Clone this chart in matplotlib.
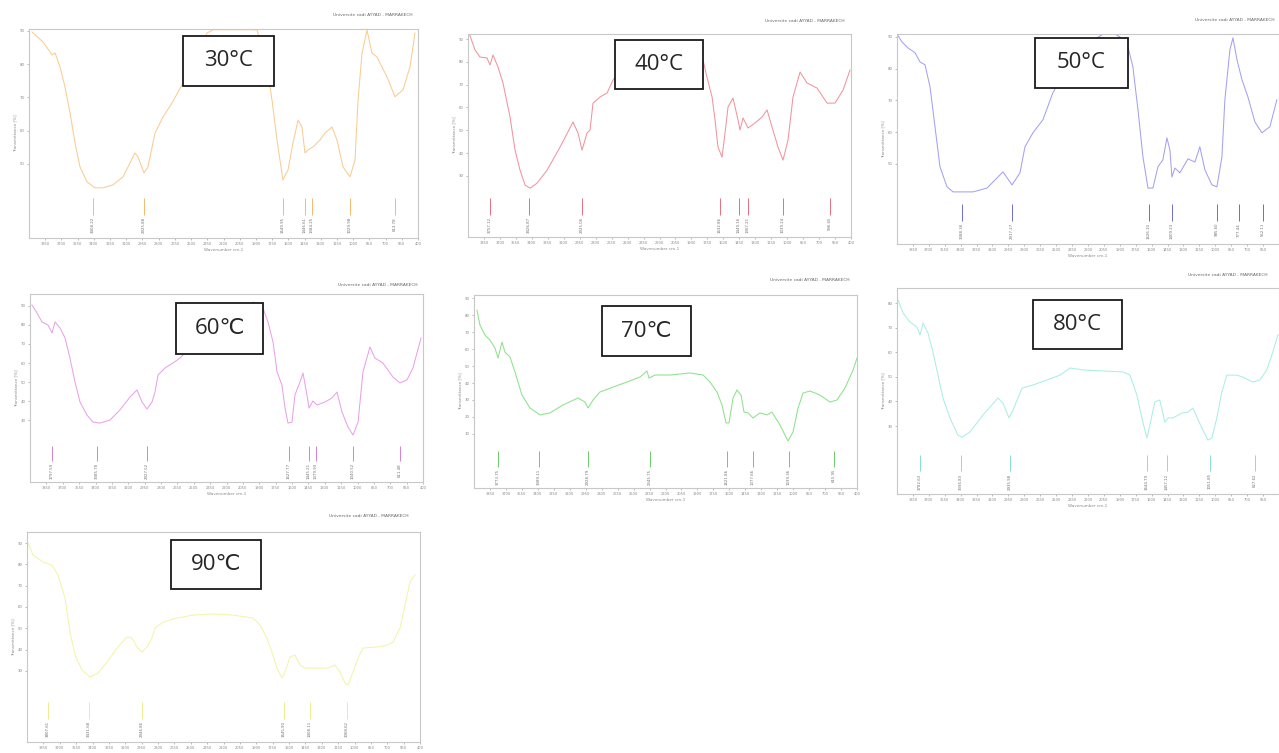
"""
FTIR spectra of the samples dried at 30-90 °C (one panel per temperature).
"""

import numpy as np
import matplotlib.pyplot as plt
from matplotlib.patches import Rectangle

W, H = 1279, 753
HEADER = "Universite cadi AYYAD - MARRAKECH"

# ---------------------------------------------------------------------------
# Data: wavenumber (cm-1) / transmittance (%)
# ---------------------------------------------------------------------------
wn_30 = [3972, 3870, 3787, 3759, 3713, 3667, 3620, 3574, 3528, 3463, 3389, 3315,
         3222, 3130, 3019, 2991, 2936, 2899, 2834, 2760, 2677, 2584, 2482, 2353,
         2290, 2100, 1950, 1890, 1797, 1751, 1705, 1650, 1603, 1557, 1510, 1474,
         1446, 1418, 1372, 1307, 1261, 1196, 1150, 1094, 1029, 983, 955, 918,
         872, 826, 780, 687, 613, 539, 474, 428]
t_30 = [89.7, 86.7, 82.8, 83.4, 79.2, 73.2, 65.3, 56.3, 49.1, 44.6, 42.8, 42.8,
        43.7, 46.1, 53.3, 52.1, 47.3, 49.1, 59.3, 64.1, 68.3, 73.8, 79.2, 89.4,
        90.4, 90.4, 90.4, 90.3, 79.2, 69.2, 57.2, 45.2, 48.2, 56.3, 63.2, 61.1,
        53.3, 54.2, 55.1, 57.2, 59.3, 61.1, 57.2, 49.1, 46.1, 51.2, 69.2, 83.4,
        90.3, 83.4, 82.2, 76.2, 70.2, 72.3, 79.2, 89.4]
peaks_30 = [3408, 2936, 1650, 1447, 1382, 1030, 614]
peak_labels_30 = ["3408.22", "2925.88", "1649.95", "1446.61", "1384.25",
                  "1029.98", "613.78"]

wn_40 = [3990, 3934, 3887, 3821, 3793, 3765, 3718, 3671, 3605, 3558, 3511, 3464,
         3417, 3351, 3257, 3135, 3013, 2966, 2928, 2881, 2853, 2825, 2759, 2693,
         2637, 2500, 2300, 2100, 1950, 1791, 1754, 1706, 1678, 1650, 1612, 1584,
         1556, 1509, 1462, 1443, 1415, 1368, 1302, 1236, 1189, 1142, 1086, 1039,
         992, 945, 879, 813, 719, 625, 550, 475, 409]
t_40 = [92.6, 85.2, 82.1, 81.7, 78.6, 83.0, 77.7, 70.7, 55.8, 41.3, 32.5, 26.0,
        24.6, 26.8, 32.5, 42.6, 53.6, 48.8, 41.3, 48.8, 50.1, 61.9, 64.6, 66.3,
        72.0, 80.0, 86.0, 88.0, 86.0, 80.8, 73.3, 64.6, 54.5, 42.6, 38.2, 48.8,
        60.2, 64.1, 54.5, 50.1, 55.4, 51.0, 53.2, 55.8, 58.9, 51.4, 42.6, 36.9,
        45.7, 64.6, 75.5, 70.7, 68.5, 61.9, 61.9, 67.6, 76.4]
peaks_40 = [3793, 3427, 2929, 1631, 1453, 1368, 1039, 597]
peak_labels_40 = ["3757.12", "3426.87", "2925.06", "1632.86", "1449.16",
                  "1367.21", "1039.24", "596.65"]

wn_50 = [4000, 3953, 3896, 3830, 3783, 3736, 3689, 3642, 3595, 3529, 3472, 3284,
         3152, 3001, 2916, 2841, 2794, 2719, 2625, 2531, 2400, 2200, 2000, 1900,
         1824, 1777, 1729, 1682, 1635, 1588, 1541, 1494, 1456, 1428, 1409, 1381,
         1334, 1258, 1192, 1146, 1098, 1032, 985, 938, 910, 863, 834, 796, 749,
         693, 627, 561, 486, 420]
t_50 = [90.9, 88.4, 86.5, 85.0, 82.1, 81.2, 74.3, 61.7, 49.1, 42.8, 41.2, 41.2,
        42.4, 47.5, 43.4, 47.2, 55.4, 59.8, 63.9, 72.4, 80.0, 88.0, 92.0, 90.0,
        86.9, 80.6, 67.0, 52.2, 42.4, 42.4, 49.1, 51.3, 58.2, 54.4, 45.9, 48.7,
        47.2, 51.6, 50.6, 55.4, 48.1, 43.4, 42.8, 52.2, 70.2, 85.9, 89.7, 82.8,
        76.5, 71.1, 63.2, 59.8, 61.7, 70.2]
peaks_50 = [3388, 2917, 1626, 1409, 985, 778, 552]
peak_labels_50 = ["3388.36", "2917.27", "1626.10", "1409.23", "985.60",
                  "777.44", "552.11"]

wn_60 = [3982, 3936, 3890, 3835, 3798, 3771, 3725, 3679, 3634, 3588, 3542, 3478,
         3423, 3359, 3267, 3176, 3084, 3020, 2974, 2928, 2882, 2855, 2827, 2763,
         2690, 2626, 2500, 2300, 2100, 1950, 1866, 1820, 1774, 1737, 1692, 1664,
         1637, 1600, 1573, 1527, 1499, 1463, 1444, 1408, 1371, 1298, 1234, 1188,
         1142, 1087, 1041, 995, 950, 886, 840, 767, 675, 611, 547, 492, 418]
t_60 = [90.5, 86.3, 81.6, 80.0, 75.8, 81.6, 78.4, 73.2, 62.6, 50.0, 39.5, 32.6,
        28.9, 28.4, 30.0, 35.3, 42.1, 45.8, 39.5, 35.8, 39.5, 44.7, 53.7, 57.4,
        60.0, 62.6, 70.0, 82.0, 90.0, 92.0, 88.9, 81.6, 71.1, 55.3, 48.4, 36.3,
        28.4, 28.9, 43.2, 50.0, 54.7, 43.2, 36.3, 40.0, 37.9, 39.5, 41.6, 44.7,
        34.2, 26.3, 22.1, 28.9, 55.3, 68.4, 62.6, 60.0, 52.6, 49.5, 51.1, 57.4,
        73.2]
peaks_60 = [3798, 3386, 2928, 1628, 1445, 1380, 1041, 611]
peak_labels_60 = ["3797.59", "3385.78", "2927.52", "1627.77", "1445.21",
                  "1379.93", "1040.52", "611.48"]

wn_70 = [3972, 3944, 3897, 3850, 3803, 3774, 3737, 3709, 3662, 3615, 3549, 3474,
         3380, 3286, 3163, 3022, 2957, 2928, 2881, 2816, 2693, 2562, 2440, 2374,
         2355, 2299, 2158, 1970, 1847, 1782, 1716, 1669, 1631, 1603, 1565, 1528,
         1490, 1462, 1424, 1377, 1312, 1246, 1199, 1171, 1124, 1077, 1049, 1001,
         954, 907, 842, 748, 654, 588, 513, 437, 400]
t_70 = [82.9, 74.1, 68.2, 65.3, 60.6, 54.7, 64.1, 58.2, 55.3, 46.5, 32.9, 25.3,
        21.2, 22.4, 27.1, 31.2, 28.8, 25.3, 30.0, 34.7, 37.6, 40.6, 43.5, 47.1,
        42.9, 44.7, 44.7, 45.9, 44.7, 40.6, 34.7, 27.1, 16.5, 16.5, 31.2, 35.9,
        32.9, 22.9, 22.4, 19.4, 22.4, 21.2, 22.9, 20.0, 15.3, 9.4, 5.9, 11.2,
        25.3, 34.1, 35.3, 32.9, 28.8, 30.0, 37.1, 47.6, 54.7]
peaks_70 = [3774, 3389, 2929, 2346, 1622, 1378, 1039, 616]
peak_labels_70 = ["3773.75", "3389.11", "2928.79", "2345.75", "1621.86",
                  "1377.66", "1039.36", "615.95"]

wn_80 = [3990, 3943, 3878, 3812, 3783, 3755, 3708, 3661, 3614, 3567, 3501, 3426,
         3388, 3312, 3190, 3049, 3001, 2945, 2907, 2822, 2719, 2587, 2464, 2370,
         2248, 2060, 1871, 1805, 1739, 1692, 1645, 1617, 1570, 1523, 1476, 1447,
         1400, 1315, 1259, 1212, 1174, 1127, 1070, 1033, 986, 939, 891, 797, 741,
         647, 581, 515, 458, 411]
t_80 = [81.2, 75.9, 72.3, 70.2, 67.0, 71.9, 67.8, 60.1, 50.7, 41.4, 33.3, 26.3,
        25.5, 27.6, 34.5, 41.4, 39.3, 33.3, 36.5, 45.4, 46.7, 48.7, 50.7, 53.6,
        52.8, 52.4, 52.0, 50.7, 42.6, 33.3, 25.1, 30.4, 39.8, 40.6, 31.6, 33.3,
        33.3, 35.3, 35.7, 37.3, 33.7, 29.2, 24.3, 25.1, 33.3, 43.8, 50.7, 50.7,
        49.9, 47.9, 48.7, 52.8, 60.1, 67.0]
peaks_80 = [3783, 3397, 2936, 1645, 1457, 1052, 628]
peak_labels_80 = ["3782.63", "3396.83", "2935.98", "1644.79", "1457.12",
                  "1051.85", "627.62"]

wn_90 = [3991, 3945, 3853, 3771, 3716, 3652, 3606, 3560, 3496, 3423, 3350, 3267,
         3176, 3084, 3038, 2992, 2947, 2901, 2855, 2828, 2754, 2626, 2479, 2296,
         2113, 1930, 1866, 1802, 1756, 1710, 1664, 1637, 1591, 1545, 1499, 1453,
         1344, 1243, 1179, 1133, 1087, 1060, 1014, 968, 922, 794, 702, 647, 583,
         537, 492, 446]
t_90 = [90.0, 84.4, 81.1, 79.7, 75.0, 64.2, 48.2, 37.4, 30.4, 27.1, 29.0, 34.1,
        40.7, 45.9, 45.4, 41.2, 38.8, 41.2, 45.4, 50.1, 52.9, 54.8, 56.2, 56.7,
        56.2, 54.8, 51.5, 45.4, 38.8, 31.3, 26.6, 29.4, 36.5, 37.4, 32.7, 31.3,
        31.3, 31.3, 32.7, 29.4, 24.3, 23.3, 29.4, 36.0, 40.7, 41.2, 42.1, 43.5,
        50.1, 60.9, 71.7, 75.0]
peaks_90 = [3808, 3432, 2947, 1646, 1408, 1069]
peak_labels_90 = ["3807.61", "3431.68", "2946.86", "1645.90", "1408.11",
                  "1068.62"]

temps = ["30°C", "40°C", "50°C", "60℃", "70℃", "80°C", "90℃"]

# ---------------------------------------------------------------------------
# Layout (pixel boxes of the pasted spectra) and style
# ---------------------------------------------------------------------------
PANELS = [
    # frame (x0, y0, x1, y1), ylim, yticks, header (x, y), label box (x, y, w, h)
    dict(frame=(29, 29, 418, 238), ylim=(27.7, 90.6), yticks=[90, 80, 70, 60, 50],
         header=(413, 15), box=(183, 36, 91, 50), color='#F8CC92', mark='#F3BA6E',
         xmin_tick=400, xlabel=True),
    dict(frame=(468, 34, 851, 237), ylim=(3.2, 92.2), yticks=[90, 80, 70, 60, 50, 40, 30],
         header=(845, 21), box=(615, 40, 88, 49), color='#F0949D', mark='#E4707F',
         xmin_tick=400, xlabel=True),
    dict(frame=(897, 34, 1279, 244), ylim=(24.8, 90.9), yticks=[90, 80, 70, 60, 50],
         header=(1275, 20), box=(1035, 38, 93, 50), color='#A2A2F0', mark='#6C6CD6',
         xmin_tick=550, xlabel=True),
    dict(frame=(30, 294, 423, 482), ylim=(-2.6, 96.3), yticks=[90, 80, 70, 60, 50, 40, 30],
         header=(418, 285), box=(176, 303, 87, 51), color='#E8A2E8', mark='#D880D8',
         xmin_tick=400, xlabel=True),
    dict(frame=(474, 295, 857, 488), ylim=(-21.8, 91.8),
         yticks=[90, 80, 70, 60, 50, 40, 30, 20, 10],
         header=(850, 280), box=(602, 306, 89, 50), color='#8CE28C', mark='#6CCC6C',
         xmin_tick=400, xlabel=True),
    dict(frame=(897, 288, 1279, 494), ylim=(2.4, 86.1), yticks=[80, 70, 60, 50, 40, 30],
         header=(1268, 275), box=(1033, 300, 89, 49), color='#ABEDE6', mark='#8CDDD4',
         xmin_tick=550, xlabel=True),
    dict(frame=(27, 532, 420, 742), ylim=(-3.4, 95.2), yticks=[90, 80, 70, 60, 50, 40, 30],
         header=(409, 516), box=(171, 540, 90, 49), color='#F4F4A8', mark='#ECEC90',
         xmin_tick=400, xlabel=False),
]

SERIES = [
    (wn_30, t_30, peaks_30, peak_labels_30),
    (wn_40, t_40, peaks_40, peak_labels_40),
    (wn_50, t_50, peaks_50, peak_labels_50),
    (wn_60, t_60, peaks_60, peak_labels_60),
    (wn_70, t_70, peaks_70, peak_labels_70),
    (wn_80, t_80, peaks_80, peak_labels_80),
    (wn_90, t_90, peaks_90, peak_labels_90),
]

GRAY = '#8A8A8A'
XTICKS = list(range(3850, 399, -150))


def fig_rect(x0, y0, x1, y1):
    """Pixel box (top-left origin) -> figure fraction rect."""
    return [x0 / W, 1 - y1 / H, (x1 - x0) / W, (y1 - y0) / H]


def draw_panel(fig, cfg, series, temp):
    wn, t, peaks, labels = series
    ax = fig.add_axes(fig_rect(*cfg['frame']))
    ax.plot(wn, t, color=cfg['color'], lw=0.75)
    ax.set_xlim(4000, 400)
    ax.set_ylim(*cfg['ylim'])

    # peak markers with their wavenumber labels
    trans = ax.get_xaxis_transform()
    ax.vlines(peaks, 0.11, 0.19, transform=trans, color=cfg['mark'], lw=0.7)
    for p, lab in zip(peaks, labels):
        ax.text(p, 0.10, lab, transform=trans, rotation=90, ha='center',
                va='top', fontsize=2.8, color='#707070')

    xt = [v for v in XTICKS if v >= cfg['xmin_tick']]
    ax.set_xticks(xt)
    ax.set_xticklabels([str(v) for v in xt], fontsize=2.6, color=GRAY)
    ax.set_yticks(cfg['yticks'])
    ax.set_yticklabels([str(v) for v in cfg['yticks']], fontsize=2.8, color=GRAY)
    ax.tick_params(length=1.5, width=0.4, color=GRAY, pad=1.5)
    if cfg['xlabel']:
        ax.set_xlabel('Wavenumber cm-1', fontsize=3, color=GRAY, labelpad=1.5)
    ax.set_ylabel('Transmittance [%]', fontsize=3, color=GRAY, labelpad=2)
    for sp in ax.spines.values():
        sp.set_color('#C8C8C8')
        sp.set_linewidth(0.8)

    hx, hy = cfg['header']
    fig.text(hx / W, 1 - hy / H, HEADER, ha='right', va='center',
             fontsize=3.2, color='#666666')

    # temperature label box pasted on top of the spectrum
    bx, by, bw, bh = cfg['box']
    fig.add_artist(Rectangle((bx / W, 1 - (by + bh) / H), bw / W, bh / H,
                             transform=fig.transFigure, facecolor='white',
                             edgecolor='#1A1A1A', lw=1.3, zorder=5))
    fig.text((bx + bw / 2) / W, 1 - (by + bh / 2) / H, temp, ha='center',
             va='center', fontsize=16, color='#262626', zorder=6,
             family=['Open Sans', 'DejaVu Sans'])
    return ax


fig = plt.figure(figsize=(W / 100, H / 100), dpi=100)
fig.patch.set_facecolor('white')

for cfg, series, temp in zip(PANELS, SERIES, temps):
    draw_panel(fig, cfg, series, temp)

fig.savefig('out.png', dpi=100)
